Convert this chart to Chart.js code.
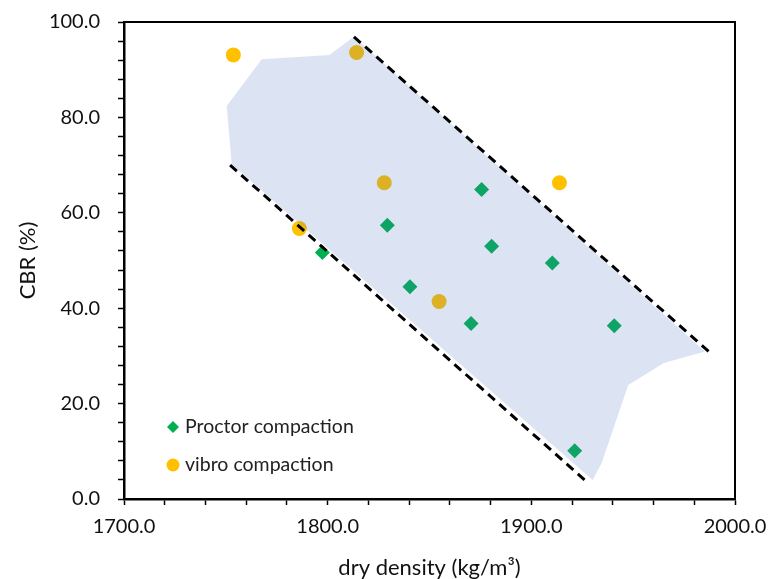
<!DOCTYPE html>
<html>
<head>
<meta charset="utf-8">
<script src="https://cdn.jsdelivr.net/npm/chart.js@4.4.1/dist/chart.umd.min.js"></script>
<style>
html,body{margin:0;padding:0;background:#fff;}
#wrap{width:771px;height:579px;position:relative;}
</style>
</head>
<body>
<div id="wrap"><canvas id="c" width="771" height="579"></canvas></div>
<script>
// Data
const proctorX = [1797.4, 1829.3, 1840.4, 1870.4, 1875.6, 1880.5, 1910.3, 1921.3, 1940.7];
const proctorY = [51.7, 57.4, 44.5, 36.8, 64.9, 53.0, 49.5, 10.1, 36.3];
const vibroX = [1753.7, 1786.1, 1814.2, 1827.8, 1854.7, 1913.8];
const vibroY = [93.1, 56.7, 93.6, 66.3, 41.4, 66.3];
const upperLineX = [1812.9, 1988.5];
const upperLineY = [96.9, 30.4];
const lowerLineX = [1752.1, 1927.5];
const lowerLineY = [70.0, 3.5];
const shapeX = [1750.4, 1767.6, 1800.8, 1812.9, 1985.3, 1965.1, 1947.6, 1934.5, 1930.1, 1752.9, 1750.4];
const shapeY = [82.4, 92.2, 93.1, 96.9, 30.9, 28.5, 23.9, 7.5, 4.0, 70.2, 82.4];
const legendLabels = ['Proctor compaction', 'vibro compaction'];
const xTitle = 'dry density (kg/m\u00B3)';
const yTitle = 'CBR (%)';

const pts = (xs, ys) => xs.map((x, i) => ({x: x, y: ys[i]}));
const FONT = 'Lato, "DejaVu Sans", sans-serif';
const GREEN = '#00B050', YELLOW = '#FFC000';
const TEXT = '#111';

const frame = {
  id: 'frame',
  afterDraw(chart) {
    const {ctx, chartArea: a} = chart;
    ctx.save();
    ctx.strokeStyle = '#000';
    ctx.lineWidth = 2;
    ctx.strokeRect(a.left, a.top, a.right - a.left, a.bottom - a.top);
    // legend
    const lx = a.left + 49, ly1 = a.bottom - 72, ly2 = a.bottom - 34;
    ctx.fillStyle = GREEN;
    ctx.beginPath();
    ctx.moveTo(lx - 6, ly1); ctx.lineTo(lx, ly1 - 6); ctx.lineTo(lx + 6, ly1); ctx.lineTo(lx, ly1 + 6);
    ctx.closePath(); ctx.fill();
    ctx.fillStyle = YELLOW;
    ctx.beginPath(); ctx.arc(lx, ly2, 6.5, 0, Math.PI * 2); ctx.fill();
    ctx.fillStyle = '#222';
    ctx.font = '19.5px ' + FONT;
    ctx.textBaseline = 'middle';
    ctx.textAlign = 'left';
    ctx.fillText(legendLabels[0], lx + 12, ly1);
    ctx.fillText(legendLabels[1], lx + 12, ly2);
    ctx.restore();
  }
};

new Chart(document.getElementById('c'), {
  type: 'scatter',
  data: {
    datasets: [
      {label: legendLabels[0], data: pts(proctorX, proctorY), pointStyle: 'rectRot', pointRadius: 7.5,
       backgroundColor: GREEN, borderWidth: 0, order: 3},
      {label: legendLabels[1], data: pts(vibroX, vibroY), pointStyle: 'circle', pointRadius: 7.5,
       backgroundColor: YELLOW, borderWidth: 0, order: 3},
      {label: 'zone', type: 'line', data: pts(shapeX, shapeY), fill: 'shape', showLine: true,
       backgroundColor: 'rgba(68,114,196,0.19)', borderWidth: 0, borderColor: 'rgba(0,0,0,0)',
       pointRadius: 0, tension: 0, order: 2},
      {label: 'upper', type: 'line', data: pts(upperLineX, upperLineY), showLine: true, fill: false,
       borderColor: '#000', borderWidth: 3, borderDash: [9, 6], pointRadius: 0, order: 1},
      {label: 'lower', type: 'line', data: pts(lowerLineX, lowerLineY), showLine: true, fill: false,
       borderColor: '#000', borderWidth: 3, borderDash: [9, 6], pointRadius: 0, order: 1}
    ]
  },
  options: {
    responsive: false,
    animation: false,
    events: [],
    layout: {padding: {left: 0, right: 36, top: 22, bottom: 0}},
    plugins: {legend: {display: false}, tooltip: {enabled: false}},
    scales: {
      x: {
        type: 'linear', min: 1700, max: 2000,
        afterFit(s) { s.height = 80; s.paddingLeft = 0; s.paddingRight = 0; },
        border: {display: true, color: '#000', width: 2.5},
        grid: {display: true, drawOnChartArea: false, drawTicks: true, tickLength: 6, color: '#000', tickWidth: 1.5},
        ticks: {stepSize: 20, autoSkip: false, maxRotation: 0, padding: 10, color: TEXT,
                font: {family: FONT, size: 20},
                callback: v => (Math.round(v) % 100 === 0 ? Number(v).toFixed(1) : '')},
        title: {display: true, text: xTitle, color: TEXT, font: {family: FONT, size: 22, lineHeight: 1}, padding: {top: 0, bottom: 0}}
      },
      y: {
        type: 'linear', min: 0, max: 100,
        afterFit(s) { s.width = 124; s.paddingTop = 0; s.paddingBottom = 0; },
        border: {display: true, color: '#000', width: 2.5},
        grid: {display: true, drawOnChartArea: false, drawTicks: true, tickLength: 6, color: '#000', tickWidth: 1.5},
        ticks: {stepSize: 4, autoSkip: false, maxTicksLimit: 100, padding: 18, color: TEXT,
                font: {family: FONT, size: 20},
                callback: v => (Math.round(v) % 20 === 0 ? Number(v).toFixed(1) : '')},
        title: {display: true, text: yTitle, color: TEXT, font: {family: FONT, size: 22, lineHeight: 1}, padding: {top: 17, bottom: 0}}
      }
    }
  },
  plugins: [frame]
});
</script>
</body>
</html>
